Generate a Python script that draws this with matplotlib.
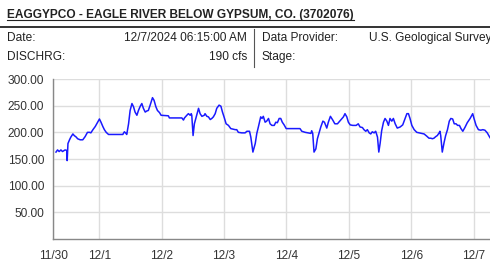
import matplotlib
matplotlib.use('Agg')
import matplotlib.pyplot as plt
from matplotlib.lines import Line2D

plt.rcParams['font.family'] = ['Liberation Sans', 'DejaVu Sans']

# ---------------- text content ----------------
title = "EAGGYPCO - EAGLE RIVER BELOW GYPSUM, CO. (3702076)"
row_labels_left = ["Date:", "DISCHRG:"]
row_values_left = ["12/7/2024 06:15:00 AM", "190 cfs"]
row_labels_right = ["Data Provider:", "Stage:"]
row_values_right = ["U.S. Geological Survey", ""]

# ---------------- data (hours since 11/30 00:00, discharge cfs) ----------------
hours = [7.4, 8.0, 8.6, 9.3, 9.9, 10.9, 11.6, 11.7, 12.0, 12.6, 13.1, 13.9, 14.4, 15.2,
         15.7, 16.7, 17.7, 18.6, 19.5, 20.3, 20.8, 21.6, 22.5, 23.3, 24.1, 24.7, 25.4,
         26.0, 26.7, 27.6, 30.8, 33.1, 33.3, 33.7, 34.3, 34.6, 35.3, 35.9, 36.6, 37.2,
         37.8, 38.5, 39.1, 39.8, 40.4, 41.0, 41.7, 42.3, 42.9, 43.6, 44.5, 45.1, 45.8,
         46.4, 47.2, 47.8, 50.6, 51.0, 55.8, 56.4, 56.8, 57.7, 58.3, 59.0, 59.4, 59.6,
         60.1, 60.6, 61.5, 62.2, 62.8, 63.5, 64.4, 64.7, 65.4, 66.0, 66.7, 67.3, 67.9,
         68.6, 69.2, 70.1, 70.8, 71.4, 72.0, 72.8, 73.7, 74.6, 76.3, 76.9, 77.5, 78.8,
         80.1, 80.8, 81.8, 82.3, 83.1, 84.0, 84.6, 85.2, 86.1, 86.6, 87.1, 87.8, 88.4,
         89.1, 89.7, 90.4, 91.3, 91.9, 92.5, 93.2, 93.8, 94.4, 95.1, 95.9, 101.2, 101.9,
         103.2, 104.4, 105.4, 105.7, 106.1, 106.6, 107.3, 107.9, 108.5, 109.2, 110.0,
         110.6, 111.5, 112.1, 112.9, 113.8, 114.6, 115.6, 116.3, 117.3, 117.9, 118.5,
         119.2, 119.8, 120.5, 121.5, 122.8, 123.6, 124.3, 125.2, 125.8, 126.5, 127.1,
         127.8, 128.4, 129.0, 129.7, 130.3, 131.0, 131.5, 132.0, 132.6, 133.3, 133.9,
         134.6, 135.2, 135.8, 136.5, 137.1, 137.8, 138.6, 139.7, 140.7, 141.6, 142.3,
         142.9, 143.5, 144.2, 145.1, 146.1, 147.1, 148.0, 148.9, 149.9, 150.8, 151.5,
         152.1, 152.7, 153.4, 154.0, 154.7, 155.0, 155.3, 155.9, 156.6, 157.2, 157.9,
         158.6, 159.2, 159.9, 160.5, 161.2, 161.8, 162.5, 163.1, 163.8, 164.7, 165.5,
         166.6, 167.6, 168.1, 168.9, 169.8, 170.7, 171.5, 172.3, 173.2, 174.25]
cfs = [163, 167, 164, 167, 164, 167, 166, 147, 179, 186, 191, 197, 194, 191,
       188, 186, 186, 192, 200, 200, 199, 205, 211, 218, 225, 219, 211,
       205, 200, 196, 196, 196, 198, 201, 198, 196, 216, 241, 254, 248,
       238, 232, 241, 249, 254, 245, 238, 240, 241, 251, 265, 260, 248,
       241, 237, 232, 231, 227, 227, 223, 227, 232, 235, 232, 235, 232,
       194, 216, 232, 245, 235, 230, 232, 235, 230, 229, 224, 226, 229,
       235, 245, 251, 249, 238, 229, 216, 213, 207, 205, 205, 200, 199,
       199, 202, 202, 191, 163, 179, 198, 210, 229, 226, 230, 219, 221,
       226, 216, 213, 213, 219, 218, 226, 226, 219, 214, 207, 207, 202,
       200, 199, 198, 203, 198, 163, 169, 188, 198, 210, 221,
       219, 208, 219, 230, 223, 216, 216, 220, 226, 229, 235,
       229, 219, 214, 213, 213, 216, 210, 209, 205, 202, 205,
       199, 197, 201, 199, 202, 191, 163, 179, 203, 219, 226,
       221, 213, 226, 221, 226, 216, 208, 210, 214, 226, 235,
       235, 226, 213, 205, 200, 199, 198, 197, 193, 189, 189,
       188, 189, 192, 194, 199, 202, 194, 163, 181, 194, 205,
       221, 226, 225, 216, 216, 213, 213, 207, 202, 210, 218,
       226, 235, 226, 213, 205, 204, 205, 204, 199, 190]

x_start, x_end = 6.25, 174.25
tick_hours = [6.25, 24, 48, 72, 96, 120, 144, 168]
tick_labels = ["11/30", "12/1", "12/2", "12/3", "12/4", "12/5", "12/6", "12/7"]
y_ticks = [50, 100, 150, 200, 250, 300]
y_tick_labels = ["50.00", "100.00", "150.00", "200.00", "250.00", "300.00"]

W, H = 490, 271
fig = plt.figure(figsize=(W / 100, H / 100), dpi=100)
fig.patch.set_facecolor('white')

def fx(px):
    return px / W

def fy(py):
    return 1 - py / H

# ---------------- header ----------------
t = fig.text(fx(7), fy(17.7), title, fontsize=8.6, fontweight='bold', color='#222222',
             va='baseline', ha='left')
fig.canvas.draw()
bb = t.get_window_extent(renderer=fig.canvas.get_renderer())
fig.add_artist(Line2D([bb.x0 / W, bb.x1 / W], [fy(19.6), fy(19.6)],
                      color='#222222', lw=0.8))

fig.add_artist(Line2D([0, 1], [fy(27), fy(27)], color='#111111', lw=1.2))
fig.add_artist(Line2D([fx(254), fx(254)], [fy(29), fy(67)], color='#555555', lw=0.8))

row_base = [40.7, 60.0]
txt_kw = dict(fontsize=8.6, color='#222222', va='baseline')
for i in range(2):
    fig.text(fx(7), fy(row_base[i]), row_labels_left[i], ha='left', **txt_kw)
    fig.text(fx(247), fy(row_base[i]), row_values_left[i], ha='right', **txt_kw)
    fig.text(fx(262), fy(row_base[i]), row_labels_right[i], ha='left', **txt_kw)
    if row_values_right[i]:
        fig.text(fx(369), fy(row_base[i]), row_values_right[i], ha='left', **txt_kw)

# ---------------- chart ----------------
ax = fig.add_axes([fx(53), fy(239), (W - 53) / W, (239 - 79) / H])
ax.set_facecolor('white')
ax.plot(hours, cfs, color='#1a1aff', lw=1.1, solid_joinstyle='round')
ax.set_xlim(x_start, x_end)
ax.set_ylim(0, 300)
ax.set_xticks(tick_hours)
ax.set_xticklabels(tick_labels)
ax.set_yticks(y_ticks)
ax.set_yticklabels(y_tick_labels)
ax.grid(True, color='#dddddd', lw=1)
ax.set_axisbelow(True)
for s in ['top', 'right']:
    ax.spines[s].set_visible(False)
for s in ['left', 'bottom']:
    ax.spines[s].set_color('#888888')
    ax.spines[s].set_linewidth(1)
ax.tick_params(axis='both', length=0, labelsize=8.6, labelcolor='#333333')
ax.tick_params(axis='x', pad=8)
ax.tick_params(axis='y', pad=6.5)

fig.savefig('out.png', dpi=100)
